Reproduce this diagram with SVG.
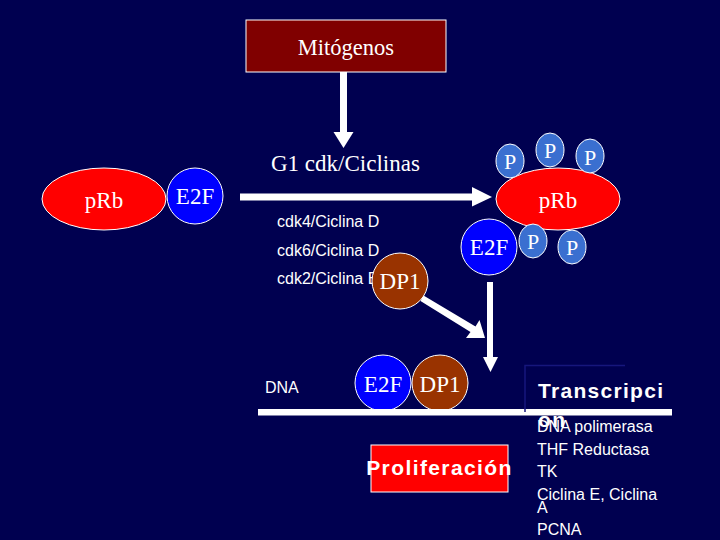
<svg xmlns="http://www.w3.org/2000/svg" width="720" height="540" viewBox="0 0 720 540">
<defs>
<style>
.serif{font-family:"Liberation Serif","Times New Roman",serif;fill:#fff}
.sans{font-family:"Liberation Sans",Arial,sans-serif;fill:#fff}
.ln{stroke:#fff;stroke-width:1}
.arrow{fill:#fff;stroke:none}
.p{fill:#3a6fd0;stroke:#fff;stroke-width:1}
</style>
</defs>
<rect x="0" y="0" width="720" height="540" fill="#000050"/>

<g id="mitogenos">
<rect x="246" y="20" width="200" height="52" fill="#800000" class="ln"/>
<text x="346" y="55" class="serif" font-size="22.5" text-anchor="middle">Mitógenos</text>
</g>

<g id="g1-label">
<text x="271" y="171" class="serif" font-size="23">G1 cdk/Ciclinas</text>
</g>

<g id="cdk-list" class="sans" font-size="16">
<text x="277" y="227" class="sans">cdk4/Ciclina D</text>
<text x="277" y="256" class="sans">cdk6/Ciclina D</text>
<text x="277" y="284" class="sans">cdk2/Ciclina E</text>
</g>

<g id="prb-left">
<ellipse cx="104" cy="199" rx="62" ry="31" fill="#ff0000" class="ln"/>
<text x="104" y="208" class="serif" font-size="23" text-anchor="middle">pRb</text>
</g>
<g id="e2f-left">
<circle cx="195" cy="196" r="28" fill="#0000ff" class="ln"/>
<text x="195" y="204" class="serif" font-size="23" text-anchor="middle">E2F</text>
</g>

<g id="prb-right">
<ellipse cx="558" cy="199" rx="62" ry="31" fill="#ff0000" class="ln"/>
<text x="558" y="208" class="serif" font-size="23" text-anchor="middle">pRb</text>
</g>
<g id="p1"><ellipse cx="510" cy="161" rx="14" ry="17" class="p"/><text x="510" y="169" class="serif" font-size="22" text-anchor="middle">P</text></g>
<g id="p2"><ellipse cx="550" cy="150" rx="14" ry="17" class="p"/><text x="550" y="158" class="serif" font-size="22" text-anchor="middle">P</text></g>
<g id="p3"><ellipse cx="590" cy="156" rx="14" ry="17" class="p"/><text x="590" y="165" class="serif" font-size="22" text-anchor="middle">P</text></g>
<g id="p4"><ellipse cx="533" cy="241" rx="14" ry="17" class="p"/><text x="533" y="249" class="serif" font-size="22" text-anchor="middle">P</text></g>
<g id="p5"><ellipse cx="572" cy="247" rx="14" ry="17" class="p"/><text x="572" y="255" class="serif" font-size="22" text-anchor="middle">P</text></g>
<g id="e2f-right">
<circle cx="489" cy="247" r="28" fill="#0000ff" class="ln"/>
<text x="489" y="255" class="serif" font-size="23" text-anchor="middle">E2F</text>
</g>
<g id="dp1-top">
<circle cx="400" cy="281" r="28" fill="#993300" class="ln"/>
<text x="400" y="289" class="serif" font-size="23" text-anchor="middle">DP1</text>
</g>

<g id="connectors">
<polygon class="arrow" points="340,72 347,72 347,132 353.5,132 343.5,148 333.5,132 340,132"/>
<polygon class="arrow" points="240,193.5 472,193.5 472,187 492,197 472,206.5 472,200.5 240,200.5"/>
<polygon class="arrow" points="420.5,301 423.5,295.5 475.5,326.5 479.5,320 485,338 466,338 470.5,332"/>
<polygon class="arrow" points="487,282 493,282 493,357 498,357 490.5,372 483,357 487,357"/>
</g>

<g id="dna">
<text x="265" y="393" class="sans" font-size="16">DNA</text>
<g id="e2f-dna">
<circle cx="383" cy="383" r="28" fill="#0000ff" class="ln"/>
<text x="383" y="392" class="serif" font-size="23" text-anchor="middle">E2F</text>
</g>
<g id="dp1-dna">
<circle cx="440" cy="383" r="28" fill="#993300" class="ln"/>
<text x="440" y="392" class="serif" font-size="23" text-anchor="middle">DP1</text>
</g>
<rect x="258" y="409" width="414" height="6.5" fill="#fff"/>
</g>

<g id="transcripcion">
<path d="M625,365.5 H525 V412" fill="none" stroke="#16167c" stroke-width="1.5"/>
<text class="sans" font-size="21" font-weight="bold" letter-spacing="1.3"><tspan x="538" y="398">Transcripci</tspan><tspan x="538" y="427">on</tspan></text>
</g>

<g id="genes" class="sans" font-size="16">
<text x="537" y="432" class="sans">DNA polimerasa</text>
<text x="537" y="455" class="sans">THF Reductasa</text>
<text x="537" y="477" class="sans">TK</text>
<text x="537" y="500" class="sans">Ciclina E, Ciclina</text>
<text x="537" y="513" class="sans">A</text>
<text x="537" y="535" class="sans">PCNA</text>
</g>

<g id="proliferacion">
<rect x="371" y="445" width="137" height="47" fill="#ff0000" class="ln"/>
<text x="439.5" y="475" class="sans" font-size="21" font-weight="bold" text-anchor="middle" letter-spacing="1.4">Proliferación</text>
</g>
</svg>
